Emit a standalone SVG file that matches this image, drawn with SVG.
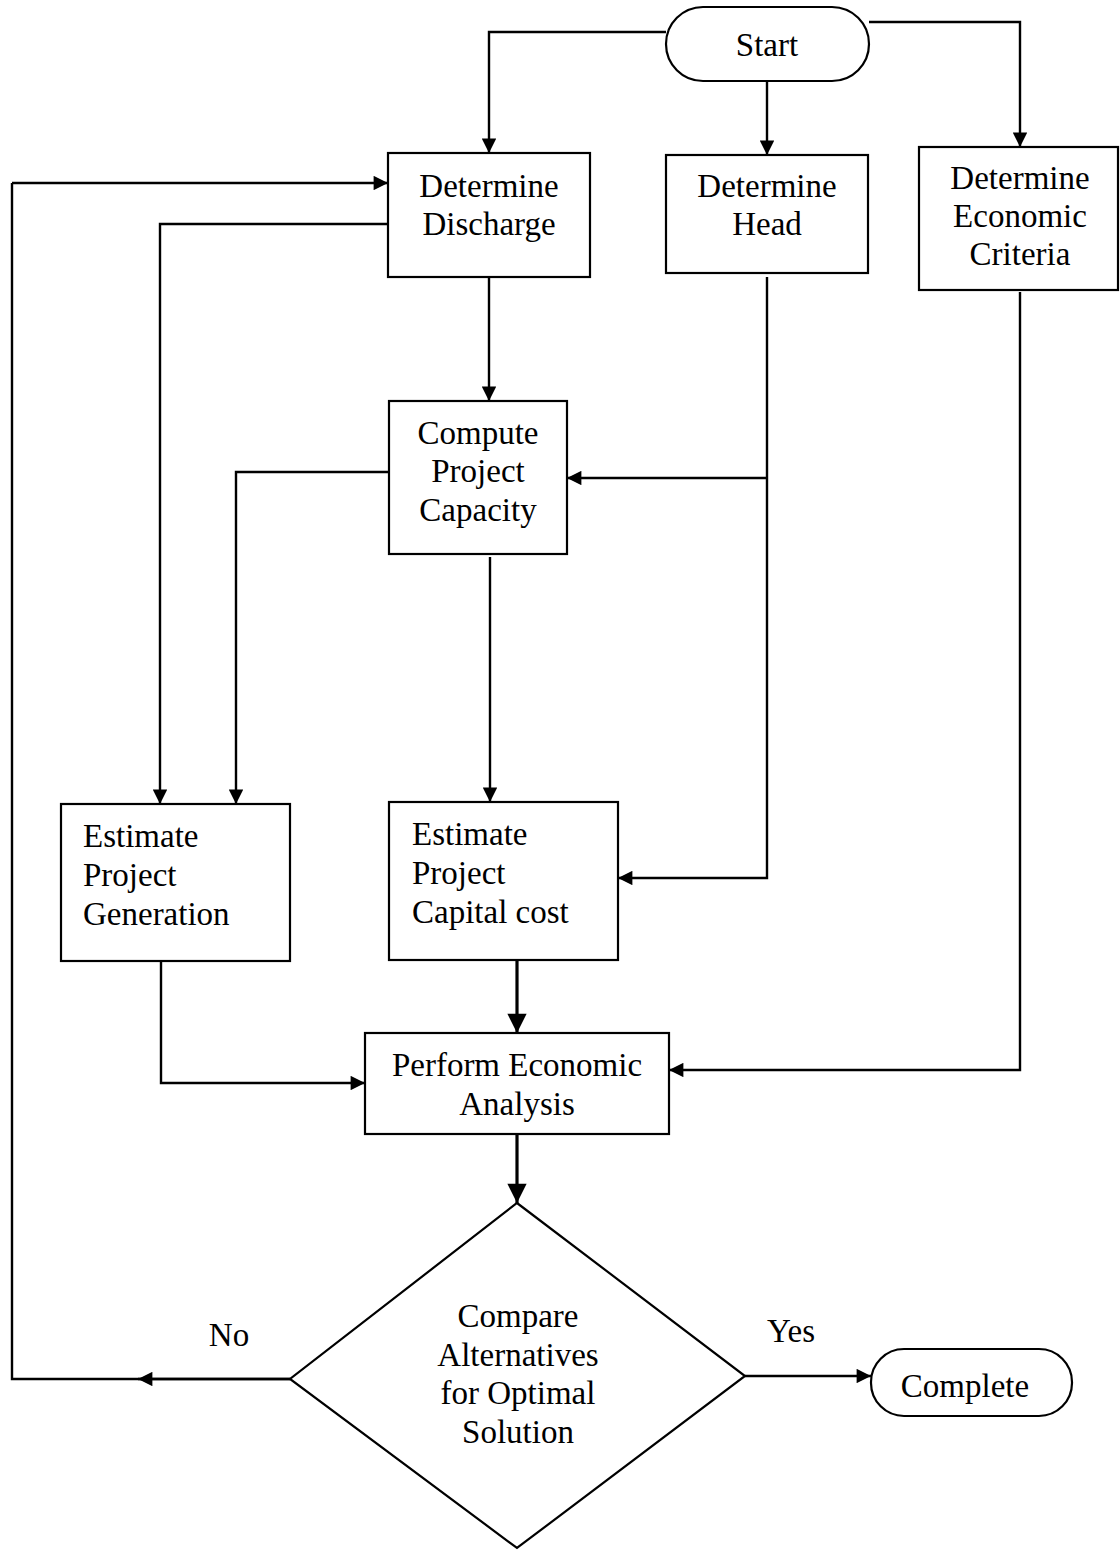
<svg xmlns="http://www.w3.org/2000/svg" width="1120" height="1550" viewBox="0 0 1120 1550">
<style>
.n{fill:#fff;stroke:#000;stroke-width:2.2}
.t{font-family:"Liberation Serif","Times New Roman",serif;font-size:33px;fill:#000}
.c{text-anchor:middle}
.e{fill:none;stroke:#000;stroke-width:2.4;marker-end:url(#a)}
.p{fill:none;stroke:#000;stroke-width:2.4}
</style>
<defs>
<marker id="a" viewBox="0 0 10 10" refX="10" refY="5" markerWidth="7" markerHeight="6" markerUnits="strokeWidth" orient="auto">
<path d="M0,0 L10,5 L0,10 z" fill="#000"/>
</marker>
</defs>
<rect width="1120" height="1550" fill="#fff"/>
<g id="connectors">
<path class="e" d="M666,32 H489 V153"/>
<path class="e" d="M767,81 V155"/>
<path class="e" d="M869,22 H1020 V147"/>
<path class="p" d="M290,1379 H12 V183"/>
<path class="e" d="M290,1379 H138"/>
<path class="e" d="M12,183 H388"/>
<path class="e" d="M388,224 H160 V804"/>
<path class="e" d="M489,277 V401"/>
<path class="e" d="M767,277 V878 H618"/>
<path class="e" d="M767,478 H567"/>
<path class="e" d="M389,472 H236 V804"/>
<path class="e" d="M490,557 V802"/>
<path class="e" d="M161,961 V1083 H365"/>
<path class="e" d="M517,960 V1033" style="stroke-width:3.2"/>
<path class="e" d="M1020,292 V1070 H669"/>
<path class="e" d="M517,1134 V1203" style="stroke-width:3.2"/>
<path class="e" d="M745,1376 H871"/>
</g>
<g id="start"><rect class="n" x="666" y="7" width="203" height="74" rx="37"/><text class="t c" x="767" y="56">Start</text></g>
<g id="discharge"><rect class="n" x="388" y="153" width="202" height="124"/><text class="t c" x="489" y="197">Determine</text><text class="t c" x="489" y="235">Discharge</text></g>
<g id="head"><rect class="n" x="666" y="155" width="202" height="118"/><text class="t c" x="767" y="197">Determine</text><text class="t c" x="767" y="235">Head</text></g>
<g id="criteria"><rect class="n" x="919" y="147" width="199" height="143"/><text class="t c" x="1020" y="189">Determine</text><text class="t c" x="1020" y="227">Economic</text><text class="t c" x="1020" y="265">Criteria</text></g>
<g id="capacity"><rect class="n" x="389" y="401" width="178" height="153"/><text class="t c" x="478" y="444">Compute</text><text class="t c" x="478" y="482">Project</text><text class="t c" x="478" y="521">Capacity</text></g>
<g id="generation"><rect class="n" x="61" y="804" width="229" height="157"/><text class="t" x="83" y="847">Estimate</text><text class="t" x="83" y="886">Project</text><text class="t" x="83" y="925">Generation</text></g>
<g id="capital"><rect class="n" x="389" y="802" width="229" height="158"/><text class="t" x="412" y="845">Estimate</text><text class="t" x="412" y="884">Project</text><text class="t" x="412" y="923">Capital cost</text></g>
<g id="economic"><rect class="n" x="365" y="1033" width="304" height="101"/><text class="t c" x="517" y="1076">Perform Economic</text><text class="t c" x="517" y="1115">Analysis</text></g>
<g id="compare"><polygon class="n" points="517,1203 745,1376 517,1548 290,1379"/><text class="t c" x="518" y="1327">Compare</text><text class="t c" x="518" y="1366">Alternatives</text><text class="t c" x="518" y="1404">for Optimal</text><text class="t c" x="518" y="1443">Solution</text></g>
<g id="complete"><rect class="n" x="871" y="1349" width="201" height="67" rx="33"/><text class="t c" x="965" y="1397">Complete</text></g>
<g id="labels"><text class="t c" x="229" y="1346">No</text><text class="t c" x="791" y="1342">Yes</text></g>
</svg>
